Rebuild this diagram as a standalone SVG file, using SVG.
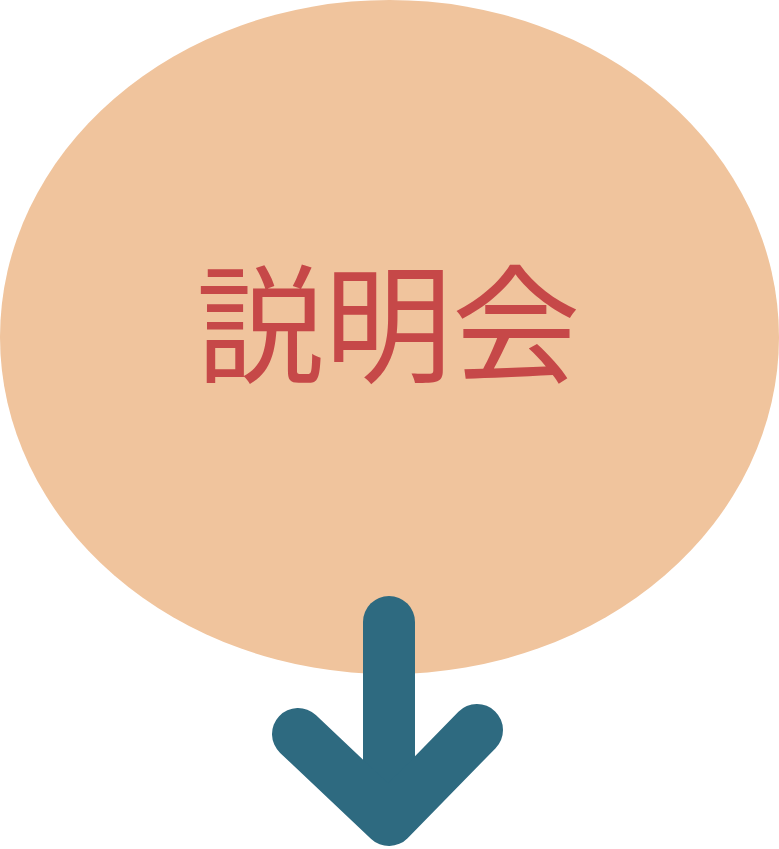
<svg xmlns="http://www.w3.org/2000/svg" width="779" height="849" viewBox="0 0 779 849">
<style>
.lbl{font-family:"Noto Sans CJK JP","Noto Sans CJK SC",sans-serif;font-size:128px;fill:#C64848;text-anchor:middle}
.arr{fill:none;stroke:#2E6A80;stroke-width:52;stroke-linecap:round;stroke-linejoin:round}
</style>
<rect width="779" height="849" fill="#FFFFFF"/>
<g id="node-setsumeikai">
<ellipse cx="389.5" cy="337" rx="389.5" ry="337" fill="#F0C49D"/>
<text class="lbl" x="388" y="373">説明会</text>
</g>
<g id="connectors">
<path class="arr" d="M389 622 V818"/>
<path class="arr" d="M298 734 L389 820 L477 730"/>
</g>
</svg>
